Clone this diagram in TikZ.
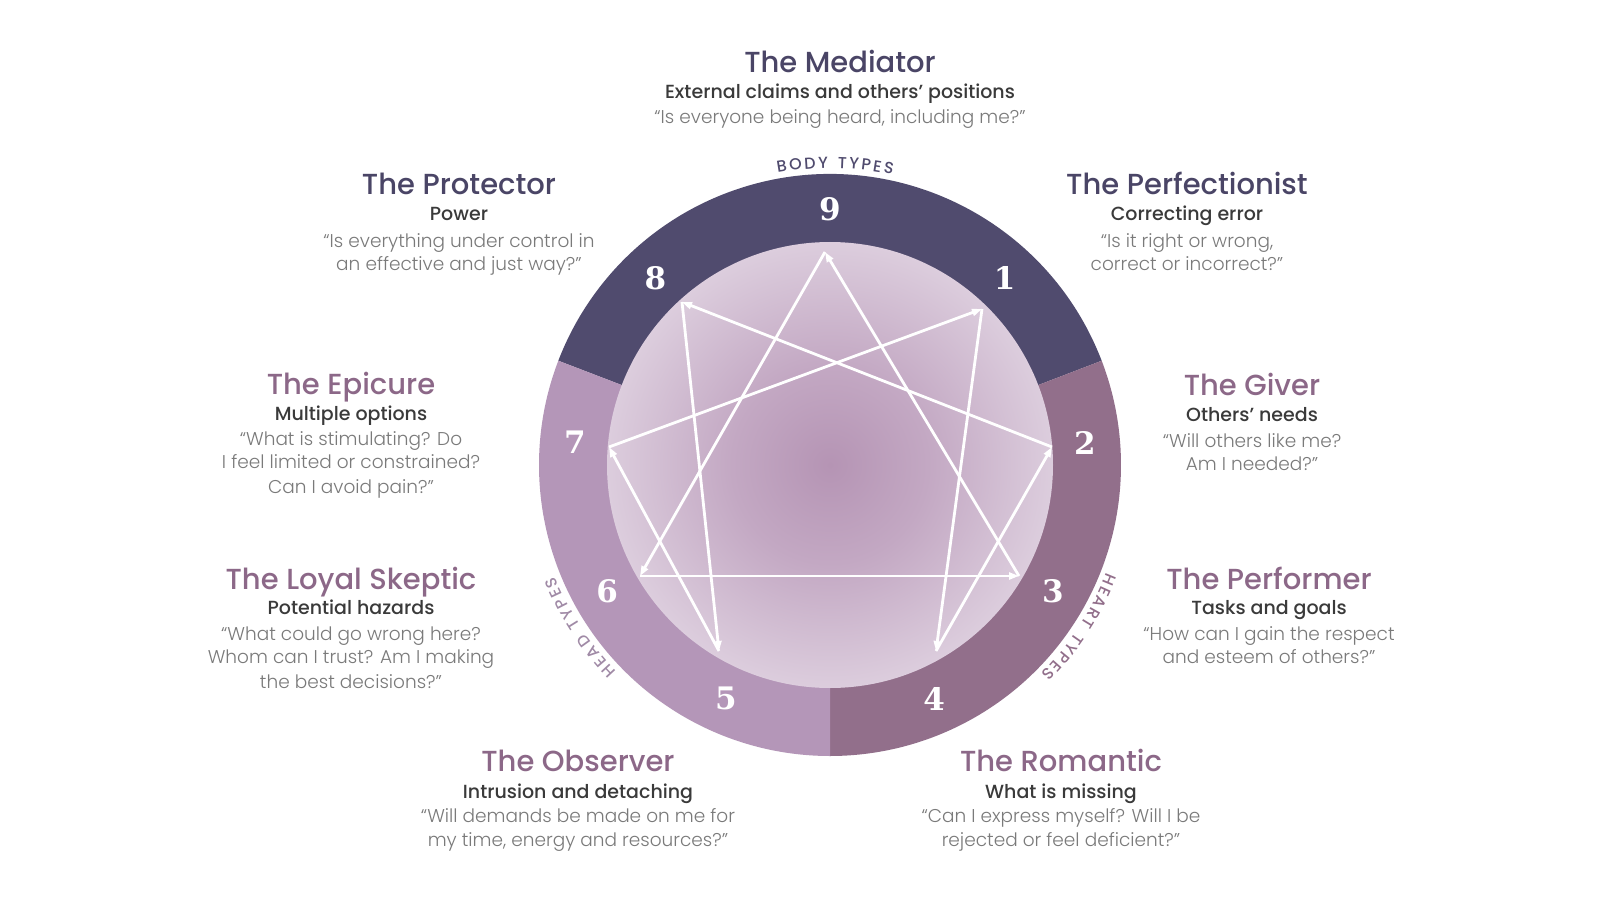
\documentclass[tikz,border=0pt]{standalone}
\usepackage{fontspec}
\usetikzlibrary{arrows.meta}
\setmainfont{Poppins}
\IfFontExistsTF{Poppins Medium}{\newfontfamily\fmed{Poppins Medium}}{\newfontfamily\fmed{Poppins}}
\IfFontExistsTF{Poppins Light}{\newfontfamily\flight{Poppins Light}}{\newfontfamily\flight{Poppins}}
\newfontfamily\fnum{DejaVu Serif Bold}

\definecolor{bodyc}{HTML}{504B6E}
\definecolor{heartc}{HTML}{926F8B}
\definecolor{headc}{HTML}{B496B8}
\definecolor{titled}{HTML}{4A4566}
\definecolor{titlem}{HTML}{8C6888}
\definecolor{subc}{HTML}{3A3A3A}
\definecolor{quotec}{HTML}{7A7A7A}
\definecolor{headlbl}{HTML}{A08AA6}
\definecolor{glow0}{HTML}{B594B4}
\definecolor{glow1}{HTML}{C3A8C3}
\definecolor{glow2}{HTML}{DCCDDD}
\definecolor{glow3}{HTML}{EFE9F0}
\definecolor{glow4}{HTML}{F8F6F9}
\pgfdeclareradialshading{innerglow}{\pgfpointorigin}{color(0bp)=(glow0); color(11bp)=(glow1); color(25bp)=(glow2); color(38bp)=(glow3); color(50bp)=(glow4)}

\newcommand\arcfont{\fmed\fontsize{16}{20}\selectfont}
\tikzset{
  titleline/.style={font=\fmed\fontsize{29}{34}\selectfont, inner sep=0pt},
  titledark/.style={titleline, text=titled},
  titlemauve/.style={titleline, text=titlem},
  subline/.style={font=\fmed\fontsize{19}{23}\selectfont, text=subc, inner sep=0pt},
  quoteline/.style={font=\flight\fontsize{18.5}{23.5}\selectfont, text=quotec, inner sep=0pt},
  numlabel/.style={font=\fnum\fontsize{31}{36}\selectfont, text=white, inner sep=0pt},
  arclabel/.style={font=\arcfont, inner sep=0pt, anchor=base},
  starline/.style={draw=white, line width=2.8pt, -{Triangle[length=10pt,width=7pt]}},
}
\newcommand\txtline[5]{\node[#1,anchor=base] (#2) at ({#3-830},{465-#4}) {#5};}

% letter widths, measured before the picture
\newcommand\measureletter[1]{\setbox0=\hbox{\arcfont #1}\expandafter\xdef\csname aw#1\endcsname{\the\wd0}}
\def\arcgap{5}
\def\spacemark{-}
\newcommand\getw{\ifx\ch\spacemark \edef\w{\arcgap}\else\edef\w{\csname aw\ch\endcsname}\fi}
% #1 name prefix, #2 centre angle, #3 radius, #4 colour, #5 tracking, #6 letters (- = word space)
\newcommand\arcword[6]{%
  \xdef\arctot{0}%
  \foreach \ch in {#6} {%
    \getw
    \pgfmathsetmacro\tmp{\arctot+\w+#5}%
    \xdef\arctot{\tmp}%
  }%
  \pgfmathsetmacro\arclen{\arctot-#5}%
  \xdef\arclen{\arclen}%
  \xdef\arcpos{0}%
  \foreach \ch [count=\i] in {#6} {%
    \getw
    \pgfmathsetmacro\midpos{\arcpos+\w/2}%
    \pgfmathsetmacro\ang{#2+(\arclen/2-\midpos)/#3*57.29578}%
    \ifx\ch\spacemark\else
      \node[arclabel, text=#4, rotate=\ang-90] (#1\i) at (\ang:#3) {\ch};
    \fi
    \pgfmathsetmacro\tmp{\arcpos+\w+#5}%
    \xdef\arcpos{\tmp}%
  }%
}

\begin{document}
\measureletter{A}\measureletter{B}\measureletter{D}\measureletter{E}\measureletter{H}%
\measureletter{O}\measureletter{P}\measureletter{R}\measureletter{S}\measureletter{T}\measureletter{Y}%
\begin{tikzpicture}[x=1pt,y=1pt]
\useasboundingbox (-830,-435) rectangle (770,465);
\fill[white] (-830,-435) rectangle (770,465);

% ring segments
\fill[bodyc] (21:291) arc[start angle=21,end angle=159,radius=291] -- (159:222) arc[start angle=159,end angle=21,radius=222] -- cycle;
\fill[heartc] (-90:291) arc[start angle=-90,end angle=21,radius=291] -- (21:222) arc[start angle=21,end angle=-90,radius=222] -- cycle;
\fill[headc] (159:291) arc[start angle=159,end angle=270,radius=291] -- (270:222) arc[start angle=270,end angle=159,radius=222] -- cycle;

% inner circle
\shade[shading=innerglow] (0,0) circle (223);

% numbers
\foreach \n/\a in {9/90,1/47,2/5,3/-29.5,4/-66,5/246,6/209.5,7/175,8/133}
  \node[numlabel] (n\n) at (\a:256) {\n};

% star vertices
\coordinate (v9) at (-5,213);
\coordinate (v1) at (152,156);
\coordinate (v2) at (222,18);
\coordinate (v3) at (189,-111);
\coordinate (v4) at (106,-186);
\coordinate (v5) at (-111,-186);
\coordinate (v6) at (-190,-111);
\coordinate (v7) at (-221,18);
\coordinate (v8) at (-148,163);

\draw[starline] (v9) -- (v6);
\draw[starline] (v6) -- (v3);
\draw[starline] (v3) -- (v9);
\draw[starline] (v1) -- (v4);
\draw[starline] (v4) -- (v2);
\draw[starline] (v2) -- (v8);
\draw[starline] (v8) -- (v5);
\draw[starline] (v5) -- (v7);
\draw[starline] (v7) -- (v1);

% curved labels
\arcword{body}{89}{297}{bodyc}{2.3}{B,O,D,Y,-,T,Y,P,E,S}
\arcword{head}{213}{297}{headlbl}{2.3}{H,E,A,D,-,T,Y,P,E,S}
\arcword{heart}{-33}{297}{heartc}{2.0}{H,E,A,R,T,-,T,Y,P,E,S}

% Mediator
\txtline{titledark}{med-t}{840}{73}{The Mediator}
\txtline{subline}{med-s}{840}{99}{External claims and others’ positions}
\txtline{quoteline}{med-q1}{840}{124}{“Is everyone being heard, including me?”}
% Protector
\txtline{titledark}{pro-t}{459}{195}{The Protector}
\txtline{subline}{pro-s}{459}{221}{Power}
\txtline{quoteline}{pro-q1}{459}{247}{“Is everything under control in}
\txtline{quoteline}{pro-q2}{459}{270}{an effective and just way?”}
% Perfectionist
\txtline{titledark}{per-t}{1187}{195}{The Perfectionist}
\txtline{subline}{per-s}{1187}{221}{Correcting error}
\txtline{quoteline}{per-q1}{1187}{247}{“Is it right or wrong,}
\txtline{quoteline}{per-q2}{1187}{270}{correct or incorrect?”}
% Epicure
\txtline{titlemauve}{epi-t}{351}{394}{The Epicure}
\txtline{subline}{epi-s}{351}{420}{Multiple options}
\txtline{quoteline}{epi-q1}{351}{445}{“What is stimulating? Do}
\txtline{quoteline}{epi-q2}{351}{468}{I feel limited or constrained?}
\txtline{quoteline}{epi-q3}{351}{493}{Can I avoid pain?”}
% Giver
\txtline{titlemauve}{giv-t}{1252}{395}{The Giver}
\txtline{subline}{giv-s}{1252}{421}{Others’ needs}
\txtline{quoteline}{giv-q1}{1252}{447}{“Will others like me?}
\txtline{quoteline}{giv-q2}{1252}{470}{Am I needed?”}
% Loyal Skeptic
\txtline{titlemauve}{sk-t}{351}{589}{The Loyal Skeptic}
\txtline{subline}{sk-s}{351}{614}{Potential hazards}
\txtline{quoteline}{sk-q1}{351}{640}{“What could go wrong here?}
\txtline{quoteline}{sk-q2}{351}{663}{Whom can I trust? Am I making}
\txtline{quoteline}{sk-q3}{351}{688}{the best decisions?”}
% Performer
\txtline{titlemauve}{pf-t}{1269}{589}{The Performer}
\txtline{subline}{pf-s}{1269}{614}{Tasks and goals}
\txtline{quoteline}{pf-q1}{1269}{640}{“How can I gain the respect}
\txtline{quoteline}{pf-q2}{1269}{663}{and esteem of others?”}
% Observer
\txtline{titlemauve}{ob-t}{578}{771}{The Observer}
\txtline{subline}{ob-s}{578}{798}{Intrusion and detaching}
\txtline{quoteline}{ob-q1}{578}{822}{“Will demands be made on me for}
\txtline{quoteline}{ob-q2}{578}{846}{my time, energy and resources?”}
% Romantic
\txtline{titlemauve}{ro-t}{1061}{771}{The Romantic}
\txtline{subline}{ro-s}{1061}{798}{What is missing}
\txtline{quoteline}{ro-q1}{1061}{822}{“Can I express myself? Will I be}
\txtline{quoteline}{ro-q2}{1061}{846}{rejected or feel deficient?”}
\end{tikzpicture}
\end{document}
